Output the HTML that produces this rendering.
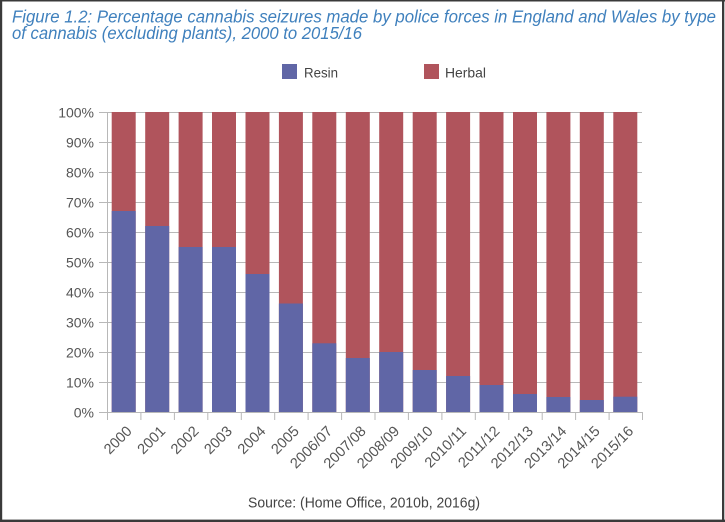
<!DOCTYPE html>
<html>
<head>
<meta charset="utf-8">
<style>
  html,body{margin:0;padding:0;background:#fff;}
  svg{display:block;}
  text{font-family:"Liberation Sans", Arial, sans-serif;}
</style>
</head>
<body>
<svg width="725" height="522" viewBox="0 0 725 522" xmlns="http://www.w3.org/2000/svg">
  <rect x="0" y="0" width="725" height="522" fill="#ffffff"/>
  <!-- border -->
  <rect x="0" y="0" width="725" height="1.5" fill="#3a3a3a"/>
  <rect x="0" y="0" width="2.2" height="522" fill="#3a3a3a"/>
  <rect x="722" y="0" width="2.3" height="522" fill="#3a3a3a"/>
  <rect x="0" y="519.6" width="725" height="2.4" fill="#3a3a3a"/>

  <!-- title -->
  <text x="12" y="22.5" font-size="17.2" font-style="italic" fill="#3f80bd" textLength="704" lengthAdjust="spacingAndGlyphs">Figure 1.2: Percentage cannabis seizures made by police forces in England and Wales by type</text>
  <text x="12" y="38.8" font-size="17.2" font-style="italic" fill="#3f80bd" textLength="350" lengthAdjust="spacingAndGlyphs">of cannabis (excluding plants), 2000 to 2015/16</text>

  <!-- legend -->
  <rect x="282" y="64" width="15" height="15" fill="#6066a6"/>
  <text x="304" y="77.5" font-size="14" fill="#444" textLength="34" lengthAdjust="spacingAndGlyphs">Resin</text>
  <rect x="424" y="64" width="15" height="15" fill="#b0545c"/>
  <text x="445" y="77.5" font-size="14" fill="#444" textLength="41" lengthAdjust="spacingAndGlyphs">Herbal</text>

  <!-- gridlines -->
  <g stroke="#b8b8b8" stroke-width="1">
    <line x1="99" y1="112.5" x2="642" y2="112.5"/>
    <line x1="99" y1="142.5" x2="642" y2="142.5"/>
    <line x1="99" y1="172.5" x2="642" y2="172.5"/>
    <line x1="99" y1="202.5" x2="642" y2="202.5"/>
    <line x1="99" y1="232.5" x2="642" y2="232.5"/>
    <line x1="99" y1="262.5" x2="642" y2="262.5"/>
    <line x1="99" y1="292.5" x2="642" y2="292.5"/>
    <line x1="99" y1="322.5" x2="642" y2="322.5"/>
    <line x1="99" y1="352.5" x2="642" y2="352.5"/>
    <line x1="99" y1="382.5" x2="642" y2="382.5"/>
    <line x1="99" y1="412.5" x2="642" y2="412.5"/>
    <line x1="107.5" y1="112" x2="107.5" y2="420"/>
  </g>
  <!-- x ticks -->
  <g stroke="#b8b8b8" stroke-width="1">
    <line x1="107.5" y1="412" x2="107.5" y2="420"/>
    <line x1="140.9" y1="412" x2="140.9" y2="420"/>
    <line x1="174.4" y1="412" x2="174.4" y2="420"/>
    <line x1="207.8" y1="412" x2="207.8" y2="420"/>
    <line x1="241.3" y1="412" x2="241.3" y2="420"/>
    <line x1="274.7" y1="412" x2="274.7" y2="420"/>
    <line x1="308.1" y1="412" x2="308.1" y2="420"/>
    <line x1="341.6" y1="412" x2="341.6" y2="420"/>
    <line x1="375" y1="412" x2="375" y2="420"/>
    <line x1="408.4" y1="412" x2="408.4" y2="420"/>
    <line x1="441.9" y1="412" x2="441.9" y2="420"/>
    <line x1="475.3" y1="412" x2="475.3" y2="420"/>
    <line x1="508.8" y1="412" x2="508.8" y2="420"/>
    <line x1="542.2" y1="412" x2="542.2" y2="420"/>
    <line x1="575.6" y1="412" x2="575.6" y2="420"/>
    <line x1="609.1" y1="412" x2="609.1" y2="420"/>
    <line x1="642.5" y1="412" x2="642.5" y2="420"/>
  </g>

  <!-- y labels -->
  <g font-size="14" fill="#555" text-anchor="end">
    <text x="94" y="117.3">100%</text>
    <text x="94" y="147.3">90%</text>
    <text x="94" y="177.3">80%</text>
    <text x="94" y="207.3">70%</text>
    <text x="94" y="237.3">60%</text>
    <text x="94" y="267.3">50%</text>
    <text x="94" y="297.3">40%</text>
    <text x="94" y="327.3">30%</text>
    <text x="94" y="357.3">20%</text>
    <text x="94" y="387.3">10%</text>
    <text x="94" y="417.3">0%</text>
  </g>

  <!-- bars: herbal full, resin overlay -->
  <g fill="#b0545c">
    <rect x="111.7" y="112" width="24" height="300"/>
    <rect x="145.2" y="112" width="24" height="300"/>
    <rect x="178.6" y="112" width="24" height="300"/>
    <rect x="212.0" y="112" width="24" height="300"/>
    <rect x="245.5" y="112" width="24" height="300"/>
    <rect x="278.9" y="112" width="24" height="300"/>
    <rect x="312.3" y="112" width="24" height="300"/>
    <rect x="345.8" y="112" width="24" height="300"/>
    <rect x="379.2" y="112" width="24" height="300"/>
    <rect x="412.7" y="112" width="24" height="300"/>
    <rect x="446.1" y="112" width="24" height="300"/>
    <rect x="479.5" y="112" width="24" height="300"/>
    <rect x="513.0" y="112" width="24" height="300"/>
    <rect x="546.4" y="112" width="24" height="300"/>
    <rect x="579.8" y="112" width="24" height="300"/>
    <rect x="613.3" y="112" width="24" height="300"/>
  </g>
  <g fill="#6066a6">
    <rect x="111.7" y="211" width="24" height="201"/>
    <rect x="145.2" y="226" width="24" height="186"/>
    <rect x="178.6" y="247" width="24" height="165"/>
    <rect x="212.0" y="247" width="24" height="165"/>
    <rect x="245.5" y="274" width="24" height="138"/>
    <rect x="278.9" y="303.5" width="24" height="108.5"/>
    <rect x="312.3" y="343.3" width="24" height="68.7"/>
    <rect x="345.8" y="358" width="24" height="54"/>
    <rect x="379.2" y="352" width="24" height="60"/>
    <rect x="412.7" y="370" width="24" height="42"/>
    <rect x="446.1" y="376" width="24" height="36"/>
    <rect x="479.5" y="385" width="24" height="27"/>
    <rect x="513.0" y="394" width="24" height="18"/>
    <rect x="546.4" y="397" width="24" height="15"/>
    <rect x="579.8" y="400" width="24" height="12"/>
    <rect x="613.3" y="396.7" width="24" height="15.3"/>
  </g>

  <!-- x labels -->
  <g font-size="14.6" fill="#555" text-anchor="end">
    <text transform="translate(132.7,432) rotate(-45)">2000</text>
    <text transform="translate(166.2,432) rotate(-45)">2001</text>
    <text transform="translate(199.6,432) rotate(-45)">2002</text>
    <text transform="translate(233.0,432) rotate(-45)">2003</text>
    <text transform="translate(266.5,432) rotate(-45)">2004</text>
    <text transform="translate(299.9,432) rotate(-45)">2005</text>
    <text transform="translate(333.3,432) rotate(-45)">2006/07</text>
    <text transform="translate(366.8,432) rotate(-45)">2007/08</text>
    <text transform="translate(400.2,432) rotate(-45)">2008/09</text>
    <text transform="translate(433.7,432) rotate(-45)">2009/10</text>
    <text transform="translate(467.1,432) rotate(-45)">2010/11</text>
    <text transform="translate(500.5,432) rotate(-45)">2011/12</text>
    <text transform="translate(534.0,432) rotate(-45)">2012/13</text>
    <text transform="translate(567.4,432) rotate(-45)">2013/14</text>
    <text transform="translate(600.8,432) rotate(-45)">2014/15</text>
    <text transform="translate(634.3,432) rotate(-45)">2015/16</text>
  </g>

  <!-- source -->
  <text x="248" y="507.5" font-size="14.5" fill="#444" textLength="232" lengthAdjust="spacingAndGlyphs">Source: (Home Office, 2010b, 2016g)</text>
</svg>
</body>
</html>
